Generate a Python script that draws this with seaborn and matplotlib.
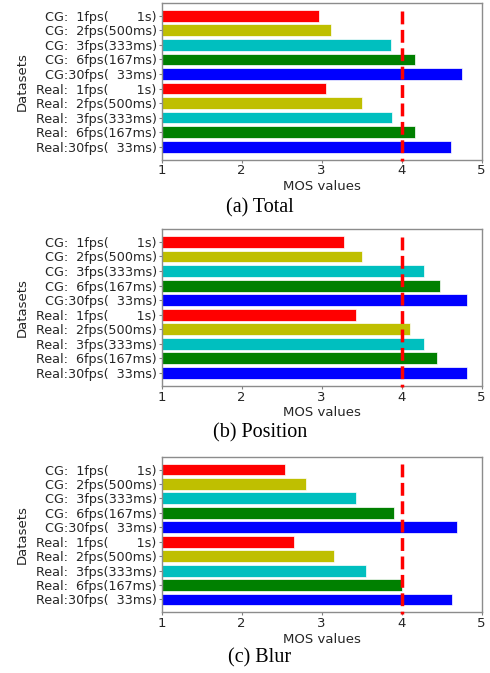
import matplotlib
matplotlib.use("Agg")
import matplotlib.pyplot as plt
import seaborn as sns
import pandas as pd

# ---- data ----
datasets = [
    "CG:  1fps(       1s)",
    "CG:  2fps(500ms)",
    "CG:  3fps(333ms)",
    "CG:  6fps(167ms)",
    "CG:30fps(  33ms)",
    "Real:  1fps(       1s)",
    "Real:  2fps(500ms)",
    "Real:  3fps(333ms)",
    "Real:  6fps(167ms)",
    "Real:30fps(  33ms)",
]
total_mos = [2.97, 3.12, 3.87, 4.17, 4.75, 3.06, 3.50, 3.88, 4.17, 4.62]
position_mos = [3.28, 3.50, 4.28, 4.48, 4.82, 3.43, 4.10, 4.28, 4.44, 4.82]
blur_mos = [2.54, 2.81, 3.43, 3.90, 4.69, 2.66, 3.15, 3.56, 4.00, 4.63]
captions = ["(a) Total", "(b) Position", "(c) Blur"]
threshold = 4
x_ticks = [1, 2, 3, 4, 5]
bar_colors = ["#ff0000", "#bfbf00", "#00bfbf", "#008000", "#0000ff"] * 2

sns.set_theme(style="white")
plt.rcParams["font.family"] = ["DejaVu Sans"]

fig = plt.figure(figsize=(4.9, 6.73), dpi=100)

W, H = 490, 673
left_px, right_px = 161.5, 481.5
panels = [(3, 159.5, 208), (229, 385.7, 433), (456.7, 612.3, 658)]
series = [total_mos, position_mos, blur_mos]

for (top, bot, cap_y), vals, cap in zip(panels, series, captions):
    ax = fig.add_axes([left_px / W, 1 - bot / H, (right_px - left_px) / W, (bot - top) / H])
    df = pd.DataFrame({"Dataset": datasets, "MOS": vals})
    sns.barplot(data=df, x="MOS", y="Dataset", hue="Dataset", palette=bar_colors,
                saturation=1, legend=False, orient="h", width=0.82, errorbar=None,
                edgecolor="white", linewidth=0.5, ax=ax)
    ax.set_xlim(x_ticks[0], x_ticks[-1])
    ax.set_ylim(9.89, -0.89)
    ax.set_xticks(x_ticks)
    ax.plot([threshold, threshold], [-0.35, 10.0], color="red", ls="--", lw=2.5,
            clip_on=False, zorder=5)
    ax.set_xlabel("MOS values", fontsize=9.5, color="0.15", labelpad=2)
    ax.set_ylabel("Datasets", fontsize=9.5, color="0.15")
    ax.yaxis.set_label_coords(-0.414, 0.5)
    ax.tick_params(axis="both", length=2, width=0.8, color="0.5", pad=1.5,
                   labelcolor="0.15")
    ax.tick_params(axis="y", labelsize=9.2, left=True)
    ax.tick_params(axis="x", labelsize=9.5, bottom=True)
    for s in ax.spines.values():
        s.set_visible(True)
        s.set_color("0.55")
        s.set_linewidth(1.0)
    fig.text(260 / W, 1 - cap_y / H, cap, ha="center", va="center",
             fontsize=14.5, family=["Liberation Serif", "DejaVu Serif"], color="black")

fig.savefig("out.png", dpi=100)
